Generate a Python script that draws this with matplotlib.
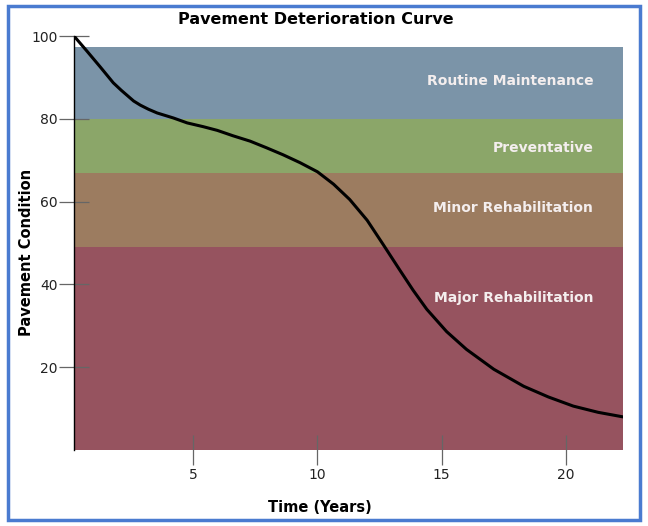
import matplotlib
matplotlib.use("Agg")
import matplotlib.pyplot as plt
from matplotlib.patches import Rectangle

# Data
years = [0.2, 0.7, 1.26, 1.78, 2.1, 2.35, 2.6, 2.87, 3.2, 3.55, 4.2, 4.76, 5.4, 5.97, 6.6, 7.29, 7.95, 8.62,
         9.3, 10.0, 10.65, 11.3, 12.0, 12.65, 13.3, 13.85, 14.4, 15.2, 16.0, 17.1, 18.3,
         19.3, 20.3, 21.3, 22.3]
condition = [100, 96.5, 92.5, 88.7, 86.9, 85.6, 84.3, 83.3, 82.3, 81.4, 80.2, 79.0, 78.1, 77.2, 75.9, 74.6, 73.0, 71.3,
             69.4, 67.2, 64.2, 60.5, 55.5, 49.6, 43.6, 38.6, 34.0, 28.6, 24.3, 19.5, 15.4,
             12.8, 10.6, 9.1, 8.0]

band_names = ["Major Rehabilitation", "Minor Rehabilitation", "Preventative", "Routine Maintenance"]
band_lower = [0, 49, 67, 80]
band_upper = [49, 67, 80, 97.3]
band_colors = ["#96535f", "#9c7c60", "#8ba669", "#7b94a8"]
band_label_y = [36.6, 58.5, 73.0, 89.2]

x_ticks = [5, 10, 15, 20]
y_ticks = [20, 40, 60, 80, 100]

W, H = 648, 526
fig = plt.figure(figsize=(W / 100, H / 100), dpi=100)
fig.patch.set_facecolor("white")

# blue frame around the figure
fig.patches.append(Rectangle((8 / W, 6 / H), (640 - 8) / W, (520 - 6) / H,
                             transform=fig.transFigure, fill=False,
                             edgecolor="#4a7bd0", linewidth=2.5, zorder=10))

ax = fig.add_axes([74 / W, 1 - 450 / H, (623 - 74) / W, (450 - 36) / H])
xmin, xmax = 0.2, 22.3
ax.set_xlim(xmin, xmax)
ax.set_ylim(0, 100)

for lo, hi, c, name, ly in zip(band_lower, band_upper, band_colors, band_names, band_label_y):
    ax.axhspan(lo, hi, color=c, zorder=1, linewidth=0)
    ax.text(21.1, ly, name, ha="right", va="center", color="#f4eeee",
            fontsize=10, fontweight="bold", zorder=3)

ax.plot(years, condition, color="black", linewidth=2.2, zorder=4,
        solid_capstyle="round", solid_joinstyle="round")

for s in ["top", "right", "bottom"]:
    ax.spines[s].set_visible(False)
ax.spines["left"].set_color("black")
ax.spines["left"].set_linewidth(1.0)
ax.spines["left"].set_zorder(5)

ax.set_xticks(x_ticks)
ax.set_yticks(y_ticks)
ax.set_xticklabels([str(t) for t in x_ticks])
ax.set_yticklabels([str(t) for t in y_ticks])
ax.tick_params(axis="y", direction="inout", length=21.6, width=0.9, color="#666666",
               labelsize=10, pad=1)
ax.tick_params(axis="x", direction="inout", length=21.6, width=0.9, color="#666666",
               labelsize=10, pad=2)
for lab in ax.get_xticklabels() + ax.get_yticklabels():
    lab.set_fontweight("medium")
    lab.set_color("#222222")

fig.text(316 / W, 1 - 20 / H, "Pavement Deterioration Curve", ha="center", va="center",
         fontsize=11.5, fontweight="bold")
fig.text(320 / W, 1 - 507 / H, "Time (Years)", ha="center", va="center",
         fontsize=10.5, fontweight="bold")
fig.text(27 / W, 1 - 252 / H, "Pavement Condition", ha="center", va="center",
         rotation=90, fontsize=10.5, fontweight="bold")

fig.savefig("out.png", dpi=100)
